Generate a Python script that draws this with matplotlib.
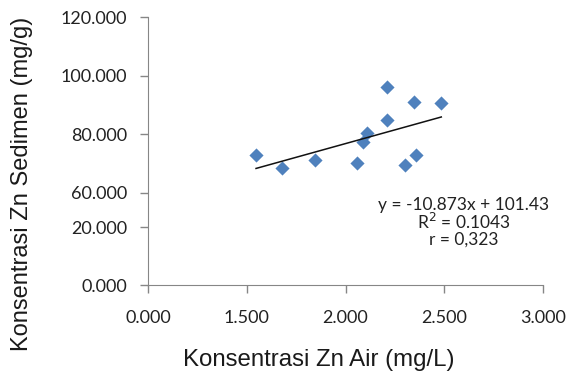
import matplotlib
matplotlib.use("Agg")
import matplotlib.pyplot as plt
import numpy as np

# Data
zn_air = [1.547, 1.677, 1.848, 2.058, 2.091, 2.111, 2.211, 2.211, 2.345, 2.300, 2.359, 2.485]
zn_sedimen = [72.8, 68.3, 71.1, 70.0, 77.4, 80.2, 96.0, 84.8, 90.8, 69.4, 72.8, 90.5]

# Axis ticks (as drawn in the original, labels are not linear)
x_tick_pos = [1.0, 1.5, 2.0, 2.5, 3.0]
x_tick_labels = ["0.000", "1.500", "2.000", "2.500", "3.000"]
y_tick_pos = [28.4, 48.2, 60, 80, 100, 120]
y_tick_labels = ["0.000", "20.000", "60.000", "80.000", "100.000", "120.000"]

eq_lines = ["y = -10.873x + 101.43", "R$^2$ = 0.1043", "r = 0,323"]
eq_y_px = [205, 222, 240]

fig = plt.figure(figsize=(5.68, 3.74), dpi=100)
ax = fig.add_axes([148/568, 1-285/374, (543-148)/568, (285-17)/374])

ax.scatter(zn_air, zn_sedimen, marker="D", s=52, color="#4F81BD", zorder=3, linewidths=0)

coef = np.polyfit(zn_air, zn_sedimen, 1)
xs = np.array([min(zn_air), max(zn_air)])
ax.plot(xs, np.polyval(coef, xs), color="#111111", lw=1.1, zorder=4)

ax.set_xlim(1.0, 3.0)
ax.set_ylim(28.4, 120)
ax.set_xticks(x_tick_pos)
ax.set_xticklabels(x_tick_labels, fontfamily="Lato", fontsize=13, color="#222222")
ax.set_yticks(y_tick_pos)
ax.set_yticklabels(y_tick_labels, fontfamily="Lato", fontsize=13, color="#222222")
ax.tick_params(axis="both", direction="out", length=6, color="#868686", width=1)
ax.tick_params(axis="x", pad=12)
ax.tick_params(axis="y", pad=9)

for s in ["top", "right"]:
    ax.spines[s].set_visible(False)
for s in ["left", "bottom"]:
    ax.spines[s].set_color("#868686")

fig.text(319/568, 1-360/374, "Konsentrasi Zn Air (mg/L)", fontfamily="Liberation Sans",
         fontsize=17.3, ha="center", va="center", color="#1a1a1a")
fig.text(22/568, 1-184/374, "Konsentrasi Zn Sedimen (mg/g)", fontfamily="Liberation Sans",
         fontsize=17, ha="center", va="center", rotation=90, color="#1a1a1a")

for line, ypx in zip(eq_lines, eq_y_px):
    fig.text(464/568, 1-ypx/374, line, fontfamily="Lato", fontsize=12.5,
             ha="center", va="center", color="#222222")

fig.savefig("out.png", dpi=100)
